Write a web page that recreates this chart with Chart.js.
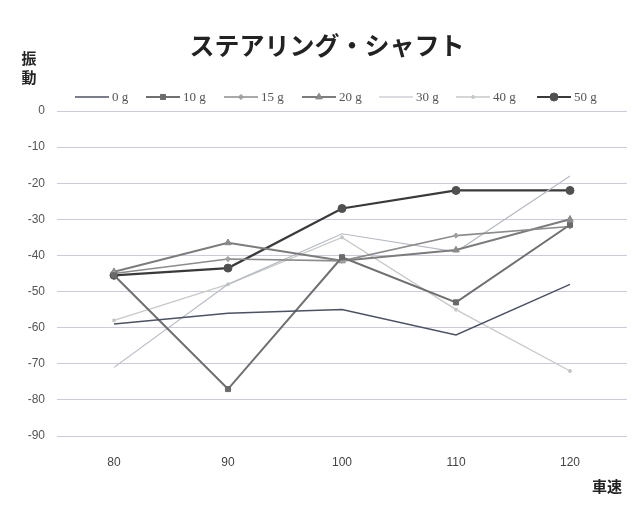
<!DOCTYPE html>
<html><head><meta charset="utf-8">
<script src="https://cdn.jsdelivr.net/npm/chart.js@4"></script>
<style>html,body{margin:0;padding:0;background:#fff;}canvas{display:block;}</style>
</head><body>
<canvas id="c" width="638" height="510"></canvas>
<script>
const categories = ['80','90','100','110','120'];
const seriesNames = ['0 g','10 g','15 g','20 g','30 g','40 g','50 g'];
const s0  = [-59, -56, -55, -62, -48];
const s10 = [-45.5, -77, -40.5, -53, -31.5];
const s15 = [-45, -41, -41.5, -34.5, -32];
const s20 = [-44.5, -36.5, -41.5, -38.5, -30];
const s30 = [-71, -48, -34, -39, -18];
const s40 = [-58, -48, -35, -55, -72];
const s50 = [-45.5, -43.5, -27, -22, -22];
const titleText = 'ステアリング・シャフト';
const yTitle = ['振','動'];
const xTitle = '車速';

const styles = [
  {c:'#4c5266', w:1.5, ps:'circle', r:0, bg:'#4c5266'},
  {c:'#707070', w:2, ps:'rect', r:3.6, bg:'#6a6a6a'},
  {c:'#8c8c8c', w:1.6, ps:'rectRot', r:2.6, bg:'#a0a0a0'},
  {c:'#7c7c7c', w:2, ps:'triangle', r:3.8, bg:'#8a8a8a'},
  {c:'#b6bac4', w:1.2, ps:'circle', r:0, bg:'#b6bac4'},
  {c:'#c6cac6', w:1.3, ps:'circle', r:1.6, bg:'#c6cac6'},
  {c:'#3a3a3a', w:2.2, ps:'circle', r:4, bg:'#505050'}
];
const allData = [s0,s10,s15,s20,s30,s40,s50];
const datasets = allData.map((d,i)=>({
  label: seriesNames[i], data: d,
  borderColor: styles[i].c, borderWidth: styles[i].w,
  backgroundColor: styles[i].bg, pointBackgroundColor: styles[i].bg,
  pointBorderColor: styles[i].bg, pointBorderWidth: 1, pointStyle: styles[i].ps,
  pointRadius: styles[i].r, pointHoverRadius: styles[i].r,
  tension: 0, fill: false
}));

const decor = {
  id:'decor',
  afterDraw(chart){
    const ctx = chart.ctx;
    ctx.save();
    ctx.fillStyle = '#222';
    ctx.textAlign = 'center'; ctx.textBaseline = 'middle';
    ctx.font = 'bold 25px "Noto Sans CJK JP"';
    ctx.fillText(titleText, 327, 45);
    ctx.font = 'bold 15px "Noto Sans CJK JP"';
    ctx.fillText(yTitle[0], 29, 58);
    ctx.fillText(yTitle[1], 29, 77);
    ctx.fillText(xTitle, 607, 486);
    // legend
    const startX = [75, 146, 224, 302, 379, 456, 537];
    const ly = 97;
    chart.data.datasets.forEach((ds,i)=>{
      const x0 = startX[i], x1 = x0 + 34;
      ctx.strokeStyle = ds.borderColor; ctx.lineWidth = ds.borderWidth;
      ctx.beginPath(); ctx.moveTo(x0, ly); ctx.lineTo(x1, ly); ctx.stroke();
      if (ds.pointRadius > 0) {
        ctx.fillStyle = ds.pointBackgroundColor;
        ctx.strokeStyle = ds.pointBorderColor;
        ctx.lineWidth = 1;
        Chart.helpers.drawPoint(ctx, {pointStyle: ds.pointStyle, radius: ds.pointRadius, borderWidth: 1, rotation: 0}, (x0+x1)/2, ly);
      }
      ctx.fillStyle = '#555';
      ctx.textAlign = 'left';
      ctx.font = '13px "Liberation Serif"';
      ctx.fillText(ds.label, x1 + 3, ly + 1);
    });
    ctx.restore();
  }
};

new Chart(document.getElementById('c'), {
  type: 'line',
  data: { labels: categories, datasets },
  options: {
    responsive: false, animation: false,
    layout: { padding: { top: 111, left: 0, right: 11, bottom: 0 } },
    plugins: { legend: { display: false }, title: { display: false }, tooltip: { enabled: false } },
    scales: {
      x: {
        offset: true,
        grid: { display: false, drawTicks: false },
        border: { display: false },
        ticks: { padding: 19, color: '#444', font: { family: 'Liberation Sans', size: 12 } },
        afterFit(s){ s.height = 74; }
      },
      y: {
        min: -90, max: 0,
        ticks: { stepSize: 10, padding: 12, color: '#555', font: { family: 'Liberation Sans', size: 12 } },
        grid: { color: '#cdcade', lineWidth: 1, drawTicks: false },
        border: { display: false },
        afterFit(s){ s.width = 57; }
      }
    }
  },
  plugins: [decor]
});
</script>
</body></html>
